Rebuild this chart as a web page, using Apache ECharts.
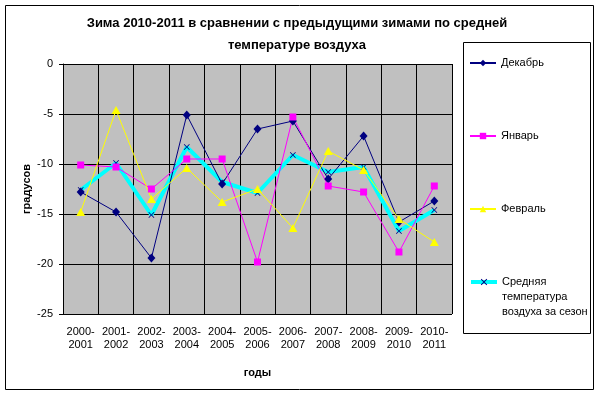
<!DOCTYPE html>
<html><head><meta charset="utf-8">
<script src="https://cdn.jsdelivr.net/npm/echarts@6/dist/echarts.min.js"></script>
<style>html,body{margin:0;padding:0;background:#fff}#c{width:601px;height:395px}</style>
</head><body><div id="c"></div>
<script>
const categories = ['2000-\n2001','2001-\n2002','2002-\n2003','2003-\n2004','2004-\n2005','2005-\n2006','2006-\n2007','2007-\n2008','2008-\n2009','2009-\n2010','2010-\n2011'];
const december = [-12.8,-14.8,-19.4,-5.1,-12.0,-6.5,-5.7,-11.5,-7.2,-15.8,-13.7];
const january  = [-10.1,-10.3,-12.5,-9.5,-9.5,-19.8,-5.3,-12.2,-12.8,-18.8,-12.2];
const february = [-14.8,-4.6,-13.5,-10.4,-13.8,-12.5,-16.4,-8.7,-10.6,-15.5,-17.8];
const seasonAvg = [-12.6,-9.9,-15.1,-8.3,-11.8,-12.9,-9.1,-10.8,-10.3,-16.7,-14.6];
const seriesNames = ['Декабрь','Январь','Февраль','Средняя\nтемпература\nвоздуха за сезон'];
const yTicks = {min:-25, max:0, interval:5};

const FONT = '"Liberation Sans", Arial, sans-serif';
const xPath = 'path://M0,1L1,0L5,4L9,0L10,1L6,5L10,9L9,10L5,6L1,10L0,9L4,5Z';

const chart = echarts.init(document.getElementById('c'), null, {renderer:'canvas'});
function legendAt(name, top, extra) {
  return Object.assign({
    data:[name], left:469, top:top, orient:'vertical', padding:0,
    itemWidth:26, itemHeight:8, itemGap:4,
    textStyle:{fontFamily:FONT, fontSize:11, color:'#000', lineHeight:15}
  }, extra||{});
}
chart.setOption({
  animation:false,
  textStyle:{fontFamily:FONT},
  title:{
    text:'Зима 2010-2011 в сравнении с предыдущими зимами по средней\nтемпературе воздуха',
    left:292, top:7, textAlign:'center',
    textStyle:{fontFamily:FONT, fontSize:13, fontWeight:'bold', color:'#000', lineHeight:22}
  },
  graphic:[
    {type:'rect', shape:{x:5.5,y:5.5,width:588,height:384}, style:{fill:'none', stroke:'#000', lineWidth:1}, z:-10},
    {type:'rect', shape:{x:463.5,y:42.5,width:127,height:291}, style:{fill:'#fff', stroke:'#000', lineWidth:1}, z:-5}
  ],
  legend:[
    legendAt(seriesNames[0], 55.5),
    legendAt(seriesNames[1], 128.5),
    legendAt(seriesNames[2], 201.5),
    legendAt(seriesNames[3], 244.5, {formatter: n => '\n\n' + n, lineStyle:{width:4}})
  ],
  grid:{left:63, right:149, top:64, bottom:81, show:true, backgroundColor:'#c0c0c0', borderWidth:0},
  xAxis:{
    type:'category', data:categories, boundaryGap:true,
    name:'годы', nameLocation:'middle', nameGap:53,
    nameTextStyle:{fontFamily:FONT, fontSize:11, fontWeight:'bold', color:'#000'},
    axisLine:{lineStyle:{color:'#000', width:1}},
    axisTick:{show:true, length:4, interval:0, lineStyle:{color:'#000'}},
    axisLabel:{fontFamily:FONT, fontSize:11, color:'#000', lineHeight:13, margin:11, interval:0},
    splitLine:{show:true, interval:0, lineStyle:{color:'#000', width:1}}
  },
  yAxis:{
    type:'value', min:yTicks.min, max:yTicks.max, interval:yTicks.interval,
    name:'градусов', nameLocation:'middle', nameGap:31, nameRotate:90, nameMoveOverlap:false,
    nameTextStyle:{fontFamily:FONT, fontSize:11, fontWeight:'bold', color:'#000'},
    axisLine:{show:true, lineStyle:{color:'#000', width:1}},
    axisTick:{show:true, length:4, lineStyle:{color:'#000'}},
    axisLabel:{fontFamily:FONT, fontSize:11, color:'#000', margin:10},
    splitLine:{show:true, lineStyle:{color:'#000', width:1}}
  },
  series:[
    {name:seriesNames[0], type:'line', data:december, symbol:'diamond', symbolSize:[8,9],
     lineStyle:{color:'#000080', width:1}, itemStyle:{color:'#000080'}, z:3},
    {name:seriesNames[1], type:'line', data:january, symbol:'rect', symbolSize:7,
     lineStyle:{color:'#ff00ff', width:1}, itemStyle:{color:'#ff00ff'}, z:3},
    {name:seriesNames[2], type:'line', data:february, symbol:'triangle', symbolSize:[9,8],
     lineStyle:{color:'#ffff00', width:1}, itemStyle:{color:'#ffff00'}, z:3},
    {name:seriesNames[3], type:'line', data:seasonAvg, symbol:xPath, symbolSize:6,
     lineStyle:{color:'#00ffff', width:4}, itemStyle:{color:'#000080'}, z:2}
  ]
});
</script></body></html>
